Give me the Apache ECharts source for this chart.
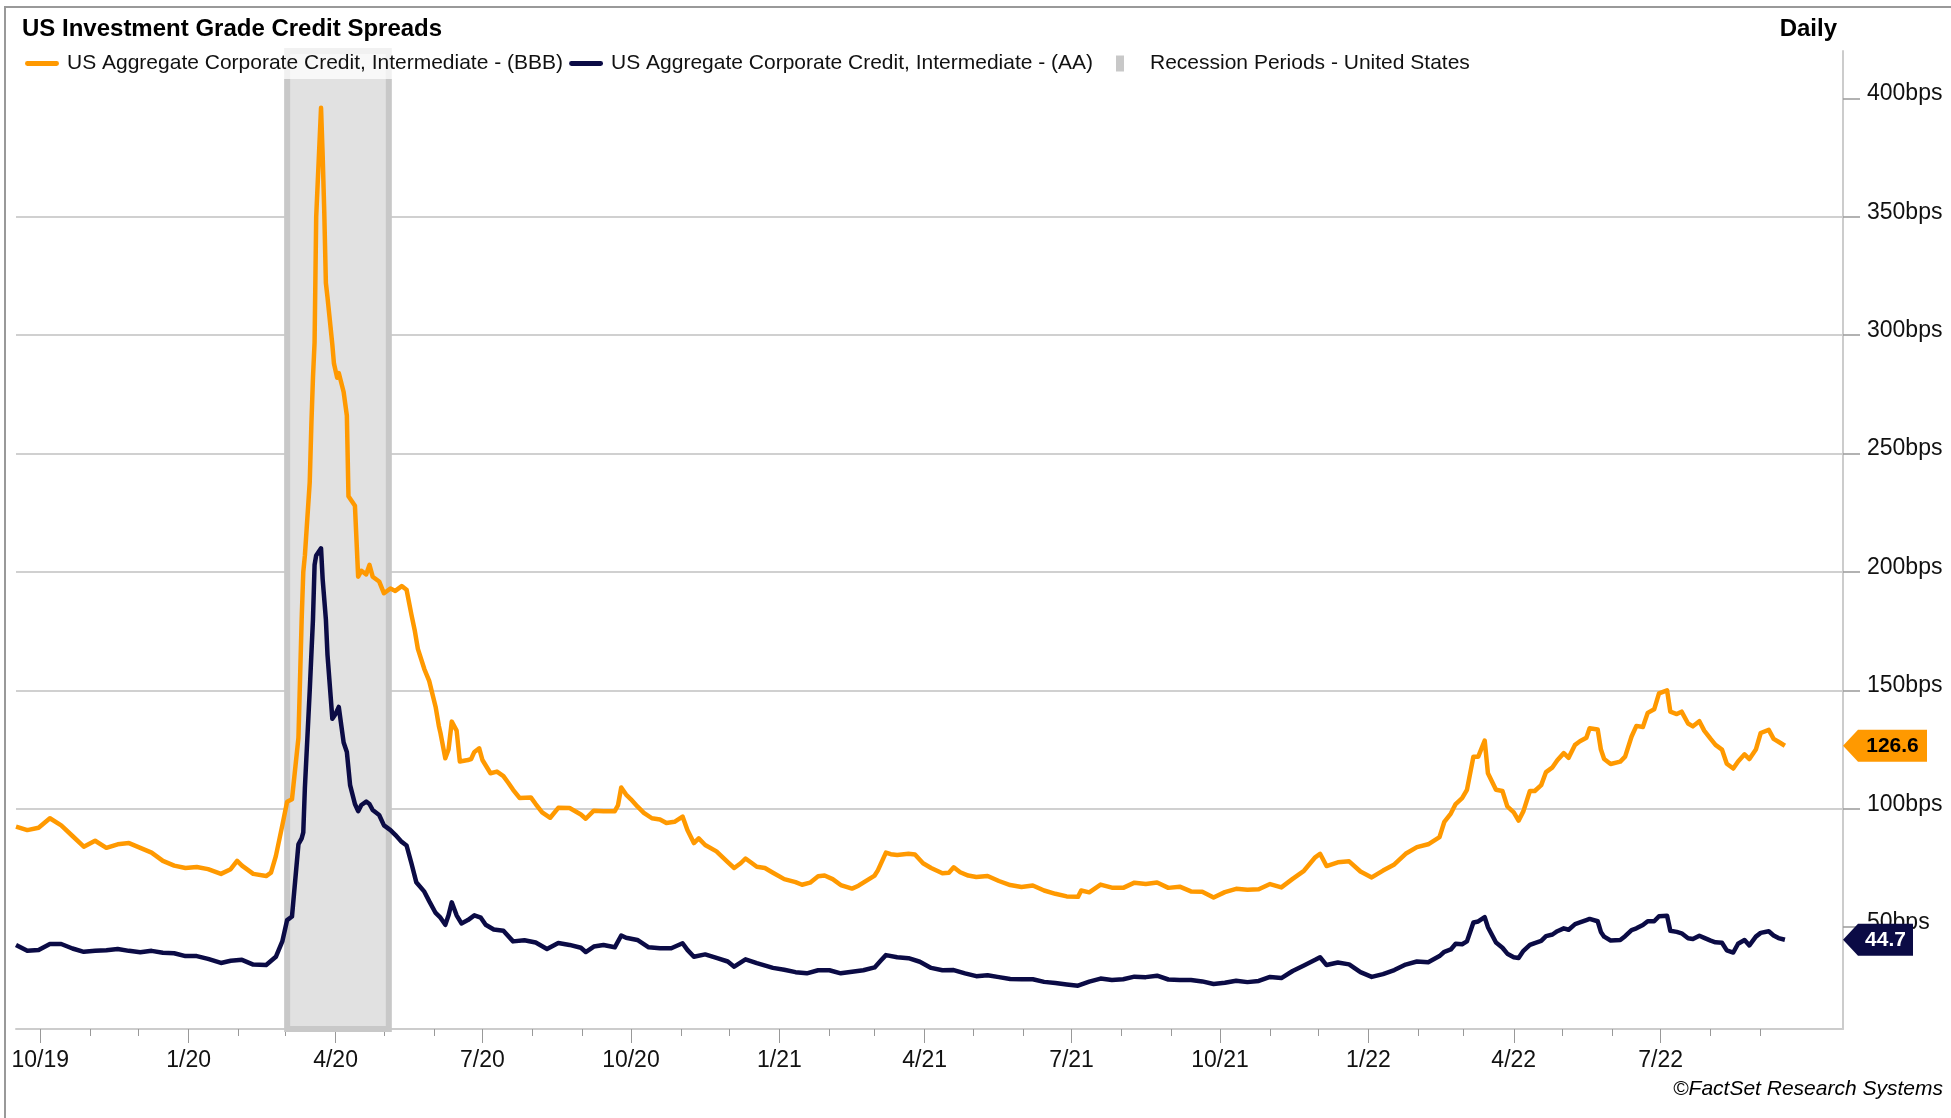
<!DOCTYPE html>
<html>
<head>
<meta charset="utf-8">
<title>US Investment Grade Credit Spreads</title>
<script src="https://cdn.jsdelivr.net/npm/echarts@6/dist/echarts.min.js"></script>
<style>
  html, body { margin: 0; padding: 0; background: #fff; }
  #main { width: 1951px; height: 1118px; }
</style>
</head>
<body>
<div id="main"></div>
<script>
// values (bps), [date, value]
const bbb = [
  ['2019-09-16', 92.5], ['2019-09-23', 91], ['2019-09-30', 92], ['2019-10-07', 96], ['2019-10-14', 93],
  ['2019-10-21', 88.5], ['2019-10-28', 84], ['2019-11-04', 86.5], ['2019-11-11', 83.5], ['2019-11-18', 85],
  ['2019-11-25', 85.5], ['2019-12-02', 83.5], ['2019-12-09', 81.5], ['2019-12-16', 78], ['2019-12-23', 76],
  ['2019-12-30', 75], ['2020-01-06', 75.4], ['2020-01-13', 74.5], ['2020-01-21', 72.5], ['2020-01-27', 74.5],
  ['2020-01-31', 78], ['2020-02-03', 76], ['2020-02-10', 72.5], ['2020-02-18', 71.6], ['2020-02-21', 73],
  ['2020-02-24', 80], ['2020-02-28', 93], ['2020-03-02', 103], ['2020-03-05', 104], ['2020-03-09', 130],
  ['2020-03-11', 180], ['2020-03-12', 200], ['2020-03-13', 207], ['2020-03-16', 238], ['2020-03-17', 262],
  ['2020-03-18', 282], ['2020-03-19', 297], ['2020-03-20', 350], ['2020-03-23', 396], ['2020-03-24', 376],
  ['2020-03-25', 352], ['2020-03-26', 322], ['2020-03-27', 316], ['2020-03-30', 296], ['2020-03-31', 288],
  ['2020-04-02', 282], ['2020-04-03', 284], ['2020-04-06', 276], ['2020-04-08', 266], ['2020-04-09', 232],
  ['2020-04-13', 228], ['2020-04-15', 198], ['2020-04-17', 200.5], ['2020-04-20', 199], ['2020-04-22', 203],
  ['2020-04-24', 198], ['2020-04-28', 196], ['2020-05-01', 191], ['2020-05-05', 193], ['2020-05-08', 192],
  ['2020-05-12', 194], ['2020-05-15', 192.5], ['2020-05-18', 182], ['2020-05-20', 175.5], ['2020-05-22', 167.5],
  ['2020-05-26', 159], ['2020-05-29', 154], ['2020-06-02', 143], ['2020-06-04', 135], ['2020-06-05', 132],
  ['2020-06-08', 121.3], ['2020-06-10', 125], ['2020-06-12', 136.8], ['2020-06-15', 133], ['2020-06-17', 120],
  ['2020-06-22', 120.6], ['2020-06-24', 121], ['2020-06-26', 124], ['2020-06-29', 125.5], ['2020-07-01', 120.6],
  ['2020-07-06', 115], ['2020-07-10', 115.7], ['2020-07-14', 113.8], ['2020-07-17', 111], ['2020-07-20', 108],
  ['2020-07-24', 104.6], ['2020-07-31', 104.8], ['2020-08-03', 102], ['2020-08-07', 98.5], ['2020-08-12', 96.2],
  ['2020-08-17', 100.4], ['2020-08-24', 100.3], ['2020-08-31', 97.6], ['2020-09-03', 95.8], ['2020-09-08', 99.2],
  ['2020-09-14', 99], ['2020-09-21', 99], ['2020-09-23', 101.5], ['2020-09-25', 109], ['2020-09-28', 106],
  ['2020-10-01', 104], ['2020-10-05', 101], ['2020-10-09', 98.3], ['2020-10-14', 96], ['2020-10-19', 95.5],
  ['2020-10-23', 94], ['2020-10-28', 94.5], ['2020-11-02', 96.7], ['2020-11-05', 91], ['2020-11-09', 85.5],
  ['2020-11-12', 87.5], ['2020-11-16', 84.7], ['2020-11-23', 82], ['2020-11-30', 77.5], ['2020-12-04', 75],
  ['2020-12-08', 77], ['2020-12-11', 79], ['2020-12-14', 77.5], ['2020-12-18', 75.5], ['2020-12-23', 75],
  ['2020-12-28', 73], ['2021-01-04', 70.3], ['2021-01-11', 69], ['2021-01-15', 67.9], ['2021-01-20', 68.8],
  ['2021-01-25', 71.5], ['2021-01-29', 71.8], ['2021-02-03', 70.3], ['2021-02-08', 67.8], ['2021-02-15', 66.3],
  ['2021-02-19', 67.5], ['2021-02-24', 69.7], ['2021-03-01', 71.8], ['2021-03-03', 74], ['2021-03-08', 81.5],
  ['2021-03-11', 80.8], ['2021-03-15', 80.5], ['2021-03-22', 81], ['2021-03-26', 80.7], ['2021-03-31', 77],
  ['2021-04-05', 75], ['2021-04-12', 72.8], ['2021-04-16', 73], ['2021-04-19', 75.3], ['2021-04-23', 73.2],
  ['2021-04-28', 71.8], ['2021-05-03', 71.2], ['2021-05-10', 71.6], ['2021-05-17', 69.5], ['2021-05-24', 67.8],
  ['2021-05-31', 67], ['2021-06-07', 67.6], ['2021-06-14', 65.5], ['2021-06-21', 64.1], ['2021-06-28', 63],
  ['2021-07-05', 62.8], ['2021-07-07', 65.5], ['2021-07-12', 64.7], ['2021-07-19', 68], ['2021-07-26', 66.7],
  ['2021-08-02', 66.6], ['2021-08-09', 68.8], ['2021-08-16', 68.2], ['2021-08-23', 68.9], ['2021-08-30', 66.6],
  ['2021-09-06', 67.1], ['2021-09-13', 65.1], ['2021-09-20', 65], ['2021-09-27', 62.5], ['2021-10-04', 64.8],
  ['2021-10-11', 66.2], ['2021-10-18', 65.8], ['2021-10-25', 66], ['2021-11-01', 68.2], ['2021-11-08', 66.8],
  ['2021-11-15', 70.4], ['2021-11-22', 73.8], ['2021-11-29', 79.5], ['2021-12-02', 81], ['2021-12-06', 75.8],
  ['2021-12-13', 77.4], ['2021-12-20', 77.8], ['2021-12-27', 73.5], ['2022-01-03', 71], ['2022-01-10', 73.9],
  ['2022-01-17', 76.5], ['2022-01-24', 81], ['2022-01-31', 83.8], ['2022-02-07', 85], ['2022-02-14', 88],
  ['2022-02-17', 94.5], ['2022-02-21', 98], ['2022-02-24', 102], ['2022-02-28', 104.5], ['2022-03-03', 108],
  ['2022-03-07', 122], ['2022-03-10', 122], ['2022-03-14', 128.8], ['2022-03-16', 115], ['2022-03-21', 108],
  ['2022-03-25', 107.5], ['2022-03-28', 101], ['2022-04-01', 98.5], ['2022-04-04', 95], ['2022-04-07', 99],
  ['2022-04-11', 107.5], ['2022-04-14', 107.5], ['2022-04-18', 110], ['2022-04-21', 115.5], ['2022-04-25', 117.5],
  ['2022-04-28', 120.5], ['2022-05-02', 123.5], ['2022-05-05', 121.5], ['2022-05-09', 127], ['2022-05-12', 128.5],
  ['2022-05-16', 130], ['2022-05-18', 134], ['2022-05-23', 133.5], ['2022-05-25', 125], ['2022-05-27', 121],
  ['2022-05-31', 118.9], ['2022-06-06', 119.9], ['2022-06-09', 122], ['2022-06-13', 130.5], ['2022-06-16', 135],
  ['2022-06-20', 134.5], ['2022-06-23', 140.5], ['2022-06-27', 142], ['2022-06-30', 148.7], ['2022-07-05', 150],
  ['2022-07-07', 141], ['2022-07-11', 140], ['2022-07-14', 141], ['2022-07-18', 136], ['2022-07-21', 134.8],
  ['2022-07-25', 137], ['2022-07-28', 133], ['2022-08-01', 129.5], ['2022-08-04', 127], ['2022-08-08', 125],
  ['2022-08-11', 119], ['2022-08-15', 117], ['2022-08-18', 120], ['2022-08-22', 123], ['2022-08-25', 121],
  ['2022-08-29', 125], ['2022-09-01', 132], ['2022-09-06', 133.3], ['2022-09-09', 129.5], ['2022-09-12', 128.3],
  ['2022-09-16', 126.6]
];

const aa = [
  ['2019-09-16', 42.5], ['2019-09-23', 40], ['2019-09-30', 40.4], ['2019-10-07', 42.9], ['2019-10-14', 42.9],
  ['2019-10-21', 41], ['2019-10-28', 39.6], ['2019-11-04', 40], ['2019-11-11', 40.3], ['2019-11-18', 40.8],
  ['2019-11-25', 40], ['2019-12-02', 39.4], ['2019-12-09', 40], ['2019-12-16', 39.2], ['2019-12-23', 39],
  ['2019-12-30', 37.8], ['2020-01-06', 37.8], ['2020-01-13', 36.6], ['2020-01-21', 34.9], ['2020-01-27', 35.8],
  ['2020-02-03', 36.2], ['2020-02-10', 34.2], ['2020-02-18', 34], ['2020-02-24', 37.5], ['2020-02-28', 44],
  ['2020-03-02', 53], ['2020-03-05', 54.5], ['2020-03-09', 85], ['2020-03-11', 87.5], ['2020-03-12', 90],
  ['2020-03-13', 109], ['2020-03-16', 150], ['2020-03-18', 180], ['2020-03-19', 203], ['2020-03-20', 207],
  ['2020-03-23', 210], ['2020-03-24', 197], ['2020-03-26', 180], ['2020-03-27', 165], ['2020-03-30', 138],
  ['2020-04-01', 140], ['2020-04-03', 143], ['2020-04-06', 128], ['2020-04-08', 124], ['2020-04-10', 110],
  ['2020-04-13', 102], ['2020-04-15', 99], ['2020-04-17', 101.6], ['2020-04-20', 103], ['2020-04-22', 102],
  ['2020-04-24', 99.5], ['2020-04-28', 97.4], ['2020-05-01', 93], ['2020-05-05', 91], ['2020-05-08', 89],
  ['2020-05-12', 86], ['2020-05-15', 84.5], ['2020-05-18', 77], ['2020-05-21', 69], ['2020-05-26', 65],
  ['2020-05-29', 61], ['2020-06-02', 56], ['2020-06-05', 54], ['2020-06-08', 51], ['2020-06-10', 55],
  ['2020-06-12', 60.5], ['2020-06-15', 55], ['2020-06-18', 51.6], ['2020-06-22', 53], ['2020-06-26', 55],
  ['2020-06-30', 54], ['2020-07-03', 51], ['2020-07-08', 49], ['2020-07-14', 48.5], ['2020-07-20', 44],
  ['2020-07-27', 44.5], ['2020-08-03', 43.5], ['2020-08-10', 40.8], ['2020-08-17', 43.3], ['2020-08-24', 42.5],
  ['2020-08-31', 41.3], ['2020-09-03', 39.5], ['2020-09-08', 41.8], ['2020-09-14', 42.5], ['2020-09-21', 41.5],
  ['2020-09-25', 46.5], ['2020-09-28', 45.5], ['2020-10-05', 44.6], ['2020-10-12', 41.5], ['2020-10-19', 41.1],
  ['2020-10-26', 41.1], ['2020-11-02', 43.2], ['2020-11-05', 40.4], ['2020-11-09', 37.5], ['2020-11-16', 38.5],
  ['2020-11-23', 37], ['2020-11-30', 35.5], ['2020-12-04', 33.3], ['2020-12-11', 36.4], ['2020-12-18', 34.8],
  ['2020-12-28', 32.8], ['2021-01-04', 32], ['2021-01-11', 31], ['2021-01-18', 30.5], ['2021-01-25', 31.8],
  ['2021-02-01', 31.8], ['2021-02-08', 30.5], ['2021-02-15', 31.2], ['2021-02-22', 31.8], ['2021-03-01', 33],
  ['2021-03-05', 36], ['2021-03-08', 38.2], ['2021-03-15', 37.3], ['2021-03-22', 36.9], ['2021-03-29', 35.4],
  ['2021-04-05', 32.8], ['2021-04-12', 31.8], ['2021-04-19', 31.9], ['2021-04-26', 30.5], ['2021-05-03', 29.3],
  ['2021-05-10', 29.7], ['2021-05-17', 28.9], ['2021-05-24', 28.1], ['2021-05-31', 28], ['2021-06-07', 28],
  ['2021-06-14', 26.9], ['2021-06-21', 26.4], ['2021-06-28', 25.8], ['2021-07-05', 25.3], ['2021-07-12', 27],
  ['2021-07-19', 28.3], ['2021-07-26', 27.7], ['2021-08-02', 28], ['2021-08-09', 29.1], ['2021-08-16', 28.9],
  ['2021-08-23', 29.5], ['2021-08-30', 27.9], ['2021-09-06', 27.7], ['2021-09-13', 27.7], ['2021-09-20', 27.1],
  ['2021-09-27', 26], ['2021-10-04', 26.5], ['2021-10-11', 27.4], ['2021-10-18', 26.8], ['2021-10-25', 27.3],
  ['2021-11-01', 29], ['2021-11-08', 28.5], ['2021-11-15', 31.5], ['2021-11-22', 33.8], ['2021-11-29', 36.2],
  ['2021-12-02', 37.3], ['2021-12-06', 34], ['2021-12-13', 35.1], ['2021-12-20', 34.3], ['2021-12-27', 31],
  ['2022-01-03', 29], ['2022-01-10', 30.2], ['2022-01-17', 31.9], ['2022-01-24', 34.2], ['2022-01-31', 35.5],
  ['2022-02-07', 35.2], ['2022-02-14', 37.8], ['2022-02-17', 39.6], ['2022-02-21', 40.6], ['2022-02-24', 43],
  ['2022-02-28', 42.8], ['2022-03-03', 44], ['2022-03-07', 52], ['2022-03-10', 52.4], ['2022-03-14', 54.2],
  ['2022-03-16', 50], ['2022-03-21', 43.5], ['2022-03-25', 41.3], ['2022-03-28', 38.8], ['2022-04-01', 37.3],
  ['2022-04-04', 37], ['2022-04-07', 40], ['2022-04-11', 42.5], ['2022-04-14', 43.3], ['2022-04-18', 44.2],
  ['2022-04-21', 46.2], ['2022-04-25', 46.9], ['2022-04-28', 48.3], ['2022-05-02', 49.5], ['2022-05-05', 48.9],
  ['2022-05-09', 51.3], ['2022-05-12', 52], ['2022-05-16', 53], ['2022-05-18', 53.5], ['2022-05-23', 52.5],
  ['2022-05-25', 48], ['2022-05-27', 46], ['2022-05-31', 44.4], ['2022-06-06', 44.6], ['2022-06-09', 46.2],
  ['2022-06-13', 48.8], ['2022-06-16', 49.5], ['2022-06-20', 50.9], ['2022-06-23', 52.5], ['2022-06-27', 52.5],
  ['2022-06-30', 54.6], ['2022-07-05', 54.8], ['2022-07-07', 48.5], ['2022-07-11', 48], ['2022-07-14', 47.4],
  ['2022-07-18', 45.3], ['2022-07-21', 45], ['2022-07-25', 46.4], ['2022-07-28', 45.5], ['2022-08-01', 44.3],
  ['2022-08-04', 43.6], ['2022-08-08', 43.4], ['2022-08-11', 40.2], ['2022-08-15', 39.3], ['2022-08-18', 43],
  ['2022-08-22', 44.6], ['2022-08-25', 42.3], ['2022-08-29', 46], ['2022-09-01', 47.6], ['2022-09-06', 48.3],
  ['2022-09-09', 46.5], ['2022-09-12', 45.4], ['2022-09-16', 44.7]
];

const recession = ['2020-03-02', '2020-05-04'];
const quarterTicks = ['2019-10-01', '2020-01-01', '2020-04-01', '2020-07-01', '2020-10-01', '2021-01-01',
  '2021-04-01', '2021-07-01', '2021-10-01', '2022-01-01', '2022-04-01', '2022-07-01'];
const yTicks = [50, 100, 150, 200, 250, 300, 350, 400];
const axisRange = ['2019-09-16', '2022-10-22'];

const bbbName = 'US Aggregate Corporate Credit, Intermediate - (BBB)';
const aaName = 'US Aggregate Corporate Credit, Intermediate - (AA)';
const recName = 'Recession Periods - United States';

const FONT = '"Liberation Sans", Arial, sans-serif';
const ORANGE = '#FF9900';
const NAVY = '#0B0B45';

// local-time parse, same as echarts does for 'YYYY-MM-DD'
function ts(s) {
  const p = s.split('-').map(Number);
  return new Date(p[0], p[1] - 1, p[2]).getTime();
}

const xMin = ts(axisRange[0]);
const xMax = ts(axisRange[1]);

// month starts for the small ticks
const monthTicks = [];
for (let y = 2019, m = 9; y < 2022 || m <= 8; m++) {
  if (m > 11) { m = 0; y++; }
  monthTicks.push(new Date(y, m, 1).getTime());
}

function endTag(series, fill, textColor, w) {
  const last = series[series.length - 1];
  return {
    silent: true,
    symbol: 'path://M0,16L15,0L' + w + ',0L' + w + ',32L15,32Z',
    symbolSize: [w, 32],
    symbolKeepAspect: false,
    symbolOffset: [w / 2, 0],
    itemStyle: { color: fill },
    label: {
      show: true,
      position: 'inside',
      offset: [7.5, 0],
      color: textColor,
      fontFamily: FONT,
      fontWeight: 'bold',
      fontSize: 21,
      formatter: p => Number(p.value).toFixed(1)
    },
    data: [{ coord: [xMax, last[1]], value: last[1] }]
  };
}

var myChart = echarts.init(document.getElementById('main'));

const lineIcon = 'path://M2,0h30a2,2 0 0 1 0,5h-30a2,2 0 0 1 0,-5z';
const legendText = { fontFamily: FONT, fontSize: 21, color: '#111' };

var option = {
  animation: false,
  backgroundColor: '#fff',
  title: [
    {
      text: 'US Investment Grade Credit Spreads',
      left: 22, top: 17, padding: 0,
      textStyle: { fontFamily: FONT, fontSize: 24, fontWeight: 'bold', color: '#000' }
    },
    {
      text: 'Daily',
      right: 114, top: 17, padding: 0,
      textStyle: { fontFamily: FONT, fontSize: 24, fontWeight: 'bold', color: '#000' }
    },
    {
      text: '©FactSet Research Systems',
      right: 8, top: 1079, padding: 0,
      textStyle: { fontFamily: FONT, fontSize: 21, fontWeight: 'normal', fontStyle: 'italic', color: '#000' }
    }
  ],
  graphic: [{
    type: 'rect',
    silent: true,
    shape: { x: 5, y: 7, width: 2100, height: 1300 },
    style: { fill: 'none', stroke: '#999', lineWidth: 2 }
  }],
  legend: [
    {
      left: 18, top: 48,
      padding: [5, 7],
      itemWidth: 34, itemHeight: 16, itemGap: 6,
      selectedMode: false,
      backgroundColor: 'rgba(255,255,255,0.75)',
      textStyle: Object.assign({ padding: [0, 0, 0, 3] }, legendText),
      data: [
        { name: bbbName, icon: lineIcon, itemStyle: { color: ORANGE } },
        { name: aaName, icon: lineIcon, itemStyle: { color: NAVY } }
      ]
    },
    {
      left: 1109, top: 48,
      padding: [5, 7],
      itemWidth: 34, itemHeight: 16,
      selectedMode: false,
      textStyle: Object.assign({ padding: [0, 0, 0, 8] }, legendText),
      data: [
        { name: recName, icon: 'path://M0,0h8v16h-8z', itemStyle: { color: '#c8c8c8' } }
      ]
    }
  ],
  grid: { left: 16, right: 108, top: 51, bottom: 89, containLabel: false, outerBoundsMode: 'none' },
  xAxis: [
    {
      type: 'value',
      min: xMin, max: xMax,
      position: 'bottom',
      axisLine: { show: true, onZero: false, lineStyle: { color: '#cccccc', width: 2 } },
      axisTick: { show: true, customValues: quarterTicks.map(ts), length: 14, lineStyle: { color: '#999', width: 1 } },
      axisLabel: {
        customValues: quarterTicks.map(ts),
        formatter: v => { const d = new Date(v); return (d.getMonth() + 1) + '/' + String(d.getFullYear()).slice(2); },
        fontFamily: FONT, fontSize: 23, color: '#111', margin: 20
      },
      splitLine: { show: false }
    },
    {
      type: 'value',
      min: xMin, max: xMax,
      position: 'bottom', offset: 0,
      axisLine: { show: false, onZero: false },
      axisTick: { show: true, customValues: monthTicks, length: 7, lineStyle: { color: '#999', width: 1 } },
      axisLabel: { show: false },
      splitLine: { show: false }
    }
  ],
  yAxis: {
    type: 'value',
    position: 'right',
    min: 7, max: 420, splitNumber: 8,
    axisLine: { show: true, lineStyle: { color: '#cccccc', width: 2 } },
    axisTick: { show: true, customValues: yTicks, length: 17, lineStyle: { color: '#999', width: 1.5 } },
    axisLabel: {
      customValues: yTicks,
      formatter: v => v + 'bps',
      fontFamily: FONT, fontSize: 23, color: '#111', margin: 24,
      verticalAlign: 'bottom', lineHeight: 9
    },
    splitLine: { show: true, showMinLine: false, showMaxLine: false, lineStyle: { color: '#d0d0d0', width: 2 } }
  },
  series: [
    {
      name: recName,
      type: 'line',
      data: [],
      symbol: 'none',
      itemStyle: { color: '#c8c8c8' },
      lineStyle: { color: '#c8c8c8' },
      markArea: {
        silent: true,
        itemStyle: { color: '#e1e1e1', borderColor: '#c8c8c8', borderWidth: 6 },
        data: [[{ xAxis: ts(recession[0]) }, { xAxis: ts(recession[1]) }]]
      }
    },
    {
      name: bbbName,
      type: 'line',
      symbol: 'none',
      z: 3,
      data: bbb.map(d => [ts(d[0]), d[1]]),
      itemStyle: { color: ORANGE },
      lineStyle: { color: ORANGE, width: 4.5, join: 'round' },
      markPoint: endTag(bbb, ORANGE, '#000', 84)
    },
    {
      name: aaName,
      type: 'line',
      symbol: 'none',
      z: 3,
      data: aa.map(d => [ts(d[0]), d[1]]),
      itemStyle: { color: NAVY },
      lineStyle: { color: NAVY, width: 4.5, join: 'round' },
      markPoint: endTag(aa, NAVY, '#fff', 70)
    }
  ]
};
myChart.setOption(option);
</script>
</body>
</html>
